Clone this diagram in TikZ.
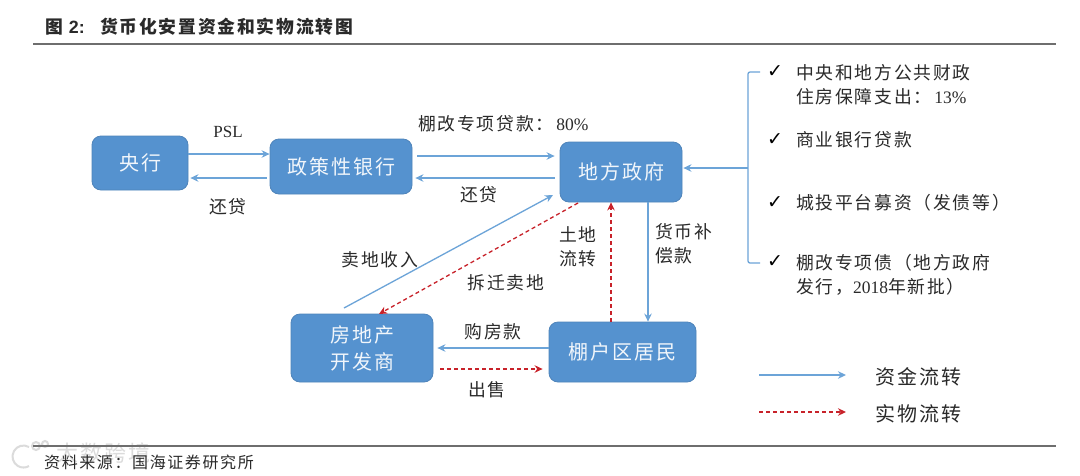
\documentclass[tikz,border=0pt]{standalone}
\usepackage{fontspec}
\usetikzlibrary{arrows.meta}
\setmainfont{Liberation Serif}
\newfontfamily\cjk[LetterSpace=10]{Noto Sans CJK SC}
\newfontfamily\arial{Liberation Sans}
\newfontfamily\tickfont{DejaVu Sans}
\definecolor{boxblue}{HTML}{5592CF}
\definecolor{boxedge}{HTML}{4F84BA}
\definecolor{flowblue}{HTML}{6CA4D8}
\definecolor{flowred}{HTML}{C8222A}
\definecolor{rulegray}{HTML}{6E6E6E}
\definecolor{inktext}{HTML}{2A2A2A}
\tikzset{
  x=1pt,y=-1pt,
  actor/.style={draw=boxedge,line width=0.8pt,fill=boxblue,rounded corners=9pt,inner sep=0pt,align=center,text=white!92!boxblue,font=\fontsize{20}{27}\selectfont\cjk},
  lbl/.style={inner sep=0pt,text=inktext,align=left,font=\fontsize{17.8}{24}\selectfont\cjk},
  money/.style={draw=flowblue,line width=1.3pt,-{Stealth[length=8pt,width=7.5pt]}},
  goods/.style={draw=flowred,line width=1.3pt,dash pattern=on 4pt off 3pt,-{Stealth[length=8pt,width=7.5pt]}},
  rulel/.style={draw=rulegray,line width=1.1pt},
  tick/.style={inner sep=0pt,text=black,font=\fontsize{19}{20}\selectfont\tickfont},
  wmark/.style={draw=black!14,line width=2pt},
}
\begin{document}
\begin{tikzpicture}
\useasboundingbox (0,0) rectangle (1080,475);
\fill[white] (0,0) rectangle (1080,475);
% watermark, under the rule
\node[inner sep=0pt,text=black!14,font=\fontsize{22}{24}\selectfont\cjk,anchor=west] (wm) at (56,453) {大数跨境};
\draw[wmark] (29,447) arc[start angle=-60,end angle=-300,radius=11];
\draw[wmark] (36,446) circle[radius=4];
\draw[wmark] (45,444) circle[radius=3];
% rules
\coordinate (ruleTL) at (33,44); \coordinate (ruleTR) at (1056,44);
\coordinate (ruleBL) at (33,446); \coordinate (ruleBR) at (1056,446);
\draw[rulel] (ruleTL) -- (ruleTR);
\draw[rulel] (ruleBL) -- (ruleBR);
% title and source
\node[lbl,anchor=west] (titleA) at (45,27) {\bfseries 图\,\,{\arial\bfseries 2:}};
\node[lbl,anchor=west] (titleB) at (100,27) {\bfseries 货币化安置资金和实物流转图};
\node[lbl,anchor=west,font=\fontsize{16}{20}\selectfont\cjk] (source) at (44,462) {资料来源：国海证券研究所};
% actors
\node[actor,minimum width=96pt,minimum height=54pt] (yh) at (140,163) {央行};
\node[actor,minimum width=142pt,minimum height=55pt] (zc) at (341,166.5) {政策性银行};
\node[actor,minimum width=122pt,minimum height=60pt] (df) at (621,172) {地方政府};
\node[actor,minimum width=142pt,minimum height=68pt] (fdc) at (362,348) {房地产\\开发商};
\node[actor,minimum width=147pt,minimum height=60pt] (ph) at (622.5,352) {棚户区居民};
% connectors
\draw[money] (yh.east |- 0,154) -- (zc.west |- 0,154);
\draw[money] ([xshift=-3pt]zc.west |- 0,178) -- ([xshift=2pt]yh.east |- 0,178);
\draw[money] ([xshift=5pt]zc.east |- 0,156) -- ([xshift=-5pt]df.west |- 0,156);
\draw[money] ([xshift=-5pt]df.west |- 0,178) -- ([xshift=3pt]zc.east |- 0,178);
\coordinate (sellStart) at (344,308);
\coordinate (sellEnd) at (553,195);
\draw[money] (sellStart) -- (sellEnd);
\coordinate (demoStart) at (578,203);
\coordinate (demoEnd) at (379,314);
\draw[goods] (demoStart) -- (demoEnd);
\draw[money] (648,0 |- df.south) -- (648,0 |- ph.north);
\draw[goods] (611,0 |- ph.north) -- (611,0 |- df.south);
\draw[money] (ph.west |- 0,348) -- ([xshift=4pt]fdc.east |- 0,348);
\draw[goods] ([xshift=7pt]fdc.east |- 0,369) -- ([xshift=-6pt]ph.west |- 0,369);
% source bracket
\coordinate (brTop) at (760,72); \coordinate (brMid) at (748,168); \coordinate (brBot) at (760,263);
\draw[draw=flowblue,line width=1.3pt,rounded corners=2pt] (brTop) -- (748,72) -- (748,263) -- (brBot);
\draw[money] (brMid) -- ([xshift=1pt]df.east |- brMid);
% labels
\node[lbl] (lPSL) at (228,132) {{\rmfamily\fontsize{17}{18}\selectfont PSL}};
\node[lbl] (lRepay1) at (228,207) {还贷};
\node[lbl,anchor=west] (lLoan) at (418,124) {棚改专项贷款：\hspace{3pt}{\rmfamily\fontsize{17.5}{18}\selectfont 80\%}};
\node[lbl] (lRepay2) at (479,195) {还贷};
\node[lbl,anchor=west] (lComp) at (655,244) {货币补\\偿款};
\node[lbl,anchor=west] (lLand) at (559,247) {土地\\流转};
\node[lbl] (lSell) at (380,260) {卖地收入};
\node[lbl] (lDemo) at (506,283) {拆迁卖地};
\node[lbl] (lBuy) at (493,332) {购房款};
\node[lbl] (lSale) at (487,390) {出售};
% list
\node[tick] (c1) at (775,72) {✓};
\node[tick] (c2) at (775,140) {✓};
\node[tick] (c3) at (775,203) {✓};
\node[tick] (c4) at (775,262) {✓};
\node[lbl,anchor=west] (t1) at (796,85) {中央和地方公共财政\\住房保障支出：\hspace{3pt}{\rmfamily\fontsize{17.5}{18}\selectfont 13\%}};
\node[lbl,anchor=west] (t2) at (796,140) {商业银行贷款};
\node[lbl,anchor=west] (t3) at (796,203) {城投平台募资（发债等）};
\node[lbl,anchor=west] (t4) at (796,274.5) {棚改专项债（地方政府\\发行，{\rmfamily\fontsize{17.5}{18}\selectfont 2018}年新批）};
% legend
\node[lbl,anchor=west,font=\fontsize{20}{24}\selectfont\cjk] (legA) at (875,377) {资金流转};
\node[lbl,anchor=west,font=\fontsize{20}{24}\selectfont\cjk] (legB) at (875,414) {实物流转};
\coordinate (legA0) at (759,375); \coordinate (legB0) at (759,412);
\draw[money] (legA0) -- ([xshift=-29pt]legA.west |- legA0);
\draw[goods] (legB0) -- ([xshift=-29pt]legB.west |- legB0);
\end{tikzpicture}
\end{document}
